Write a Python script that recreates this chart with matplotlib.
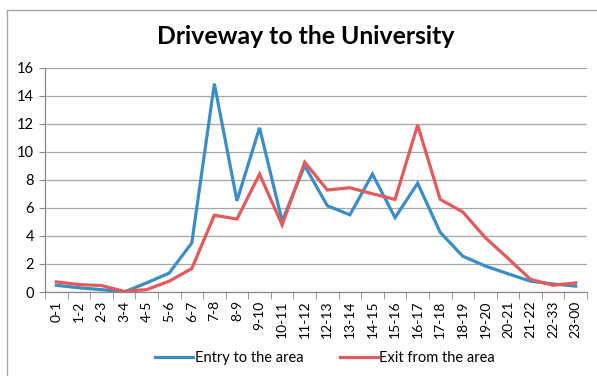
import numpy as np
import matplotlib
matplotlib.use("Agg")
import matplotlib.pyplot as plt
from matplotlib.lines import Line2D

# hourly traffic counts
hours = ["0-1", "1-2", "2-3", "3-4", "4-5", "5-6", "6-7", "7-8", "8-9", "9-10",
         "10-11", "11-12", "12-13", "13-14", "14-15", "15-16", "16-17", "17-18",
         "18-19", "19-20", "20-21", "21-22", "22-33", "23-00"]
entry = [0.48, 0.3, 0.17, 0.0, 0.65, 1.35, 3.5, 14.85, 6.5, 11.7,
         5.05, 9.0, 6.15, 5.5, 8.4, 5.3, 7.75, 4.25, 2.55, 1.85,
         1.3, 0.77, 0.57, 0.42]
exit_ = [0.72, 0.53, 0.46, 0.05, 0.17, 0.77, 1.67, 5.47, 5.2, 8.4,
         4.78, 9.25, 7.27, 7.43, 7.0, 6.6, 11.9, 6.6, 5.7, 3.87,
         2.4, 0.9, 0.48, 0.65]

BLUE = "#3b8dc6"
RED = "#e35a5a"
FONT = "Lato"

fig = plt.figure(figsize=(5.97, 3.76), dpi=100)
W, H = 597, 376

# chart frame
fig.add_artist(Line2D([7 / W, 7 / W], [0, 1 - 10 / H], color="#a6a6a6", lw=1.0))
fig.add_artist(Line2D([7 / W, 1], [1 - 10 / H, 1 - 10 / H], color="#a6a6a6", lw=1.0))

ax = fig.add_axes([45 / W, 1 - 292 / H, 542 / W, 224.5 / H])
x = np.arange(len(hours))
ax.plot(x, entry, color=BLUE, lw=2.3, solid_joinstyle="miter")
ax.plot(x, exit_, color=RED, lw=2.3, solid_joinstyle="miter")

ax.set_xlim(-0.5, len(hours) - 0.5)
ax.set_ylim(0, 16)
ax.set_yticks(np.arange(0, 17, 2))
ax.yaxis.grid(True, color="#a6a6a6", lw=0.9)
ax.set_axisbelow(True)

ax.set_xticks(x)
ax.set_xticklabels(hours, rotation=90, fontsize=10, family=FONT)
ax.set_xticks(np.arange(-0.5, len(hours)), minor=True)
ax.tick_params(axis="x", which="major", length=0, pad=6)
ax.tick_params(axis="x", which="minor", length=5, color="#888888")
ax.tick_params(axis="y", length=4, color="#888888", labelsize=10.5, pad=4)
for lab in ax.get_yticklabels():
    lab.set_family(FONT)

for side in ["top", "right"]:
    ax.spines[side].set_visible(False)
for side in ["left", "bottom"]:
    ax.spines[side].set_color("#888888")
    ax.spines[side].set_linewidth(0.9)

fig.text(306 / W, 1 - 37 / H, "Driveway to the University", ha="center", va="center",
         fontsize=17.8, fontweight="bold", family=FONT)

handles = [Line2D([], [], color=BLUE, lw=2.3), Line2D([], [], color=RED, lw=2.3)]
fig.legend(handles, ["Entry to the area", "Exit from the area"], loc="center",
           bbox_to_anchor=(325 / W, 1 - 358 / H), ncol=2, frameon=False,
           prop={"family": FONT, "size": 10.5}, handlelength=2.6, handletextpad=0.1,
           columnspacing=2.5)

fig.savefig("out.png", dpi=100)
